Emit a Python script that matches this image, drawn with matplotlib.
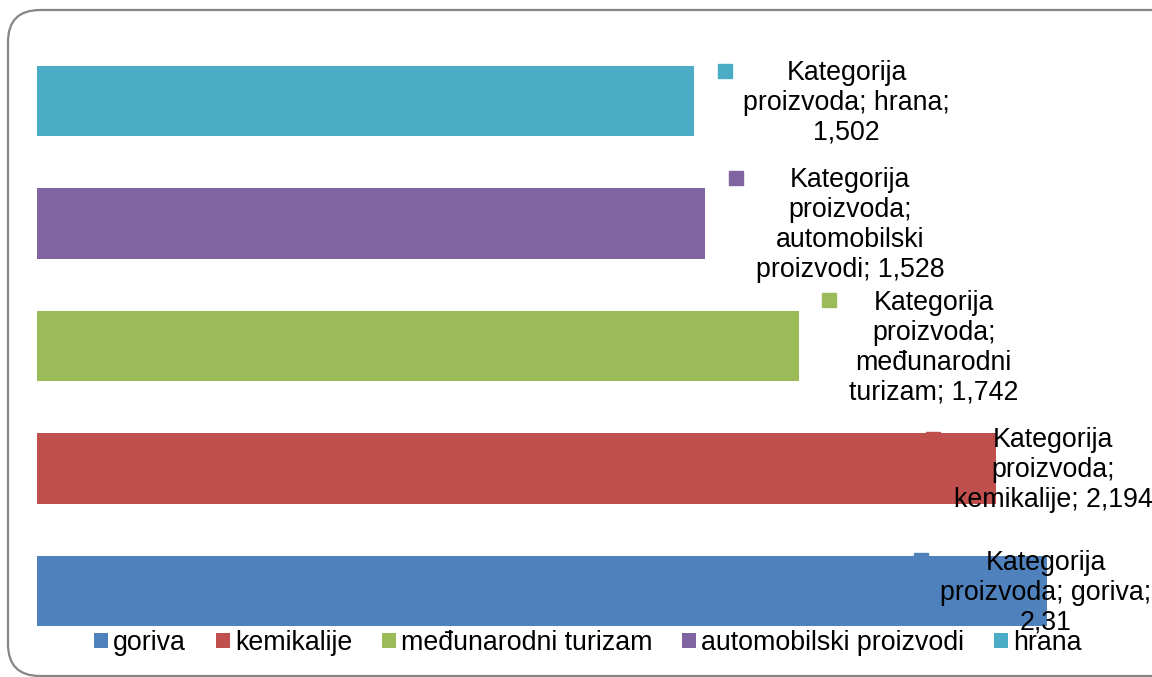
import matplotlib.pyplot as plt
import matplotlib.transforms as mtransforms
from matplotlib.patches import FancyBboxPatch

plt.rcParams['font.family'] = ['Liberation Sans', 'DejaVu Sans']

categories = ['goriva', 'kemikalije', 'međunarodni turizam', 'automobilski proizvodi', 'hrana']
values = [2.31, 2.194, 1.742, 1.528, 1.502]
label_text = [
    'Kategorija\nproizvoda; goriva;\n2,31',
    'Kategorija\nproizvoda;\nkemikalije; 2,194',
    'Kategorija\nproizvoda;\nmeđunarodni\nturizam; 1,742',
    'Kategorija\nproizvoda;\nautomobilski\nproizvodi; 1,528',
    'Kategorija\nproizvoda; hrana;\n1,502',
]
colors = ['#4F81BD', '#C0504D', '#9BBB59', '#8064A2', '#4BACC6']

# label offsets in pixels from the bar end: text centre dx, marker dx/dy
label_dx = [-1, 57, 135, 145, 153]
marker_dx = [-125, -120, -105, -114, -122]
marker_dy = [-31, -30, -46, -46, -30]

W, H = 1152, 677
fig = plt.figure(figsize=(W / 100, H / 100), dpi=100)

# rounded chart frame (in inches = px / 100), running off the right edge
frame = FancyBboxPatch((0.08, 0.01), 11.9, 6.66,
                       boxstyle='round,pad=0,rounding_size=0.32',
                       transform=fig.dpi_scale_trans, facecolor='none',
                       edgecolor='#868686', linewidth=1.6, zorder=-1)
fig.patches.append(frame)

ax = fig.add_axes([37 / W, 1 - 652.25 / H, (1047 - 37) / W, (652.25 - 39.75) / H])
ax.set_xlim(0, 2.31)
ax.set_ylim(-0.5, 4.5)
ax.axis('off')

for k in range(len(values)):
    ax.barh(k, values[k], height=0.575, color=colors[k], label=categories[k], zorder=2)

for k in range(len(values)):
    ax.annotate(label_text[k], xy=(values[k], k), xytext=(label_dx[k], -1.5),
                textcoords='offset pixels', ha='center', va='center',
                fontsize=19.3, linespacing=1.2, zorder=4, annotation_clip=False)
    off = mtransforms.ScaledTranslation((marker_dx[k] + label_dx[k]) / 100,
                                        -marker_dy[k] / 100, fig.dpi_scale_trans)
    ax.plot([values[k]], [k], marker='s', markersize=9.5, color=colors[k],
            linestyle='none', transform=ax.transData + off,
            zorder=1 if k < 2 else 3, clip_on=False)

handles, labels = ax.get_legend_handles_labels()
fig.legend(handles, labels, ncol=5, loc='center', bbox_to_anchor=(588 / W, 1 - 643 / H),
           frameon=False, fontsize=19.3, handlelength=0.5, handleheight=0.5,
           handletextpad=0.2, columnspacing=1.12, borderpad=0)

fig.savefig('out.png', dpi=100)
